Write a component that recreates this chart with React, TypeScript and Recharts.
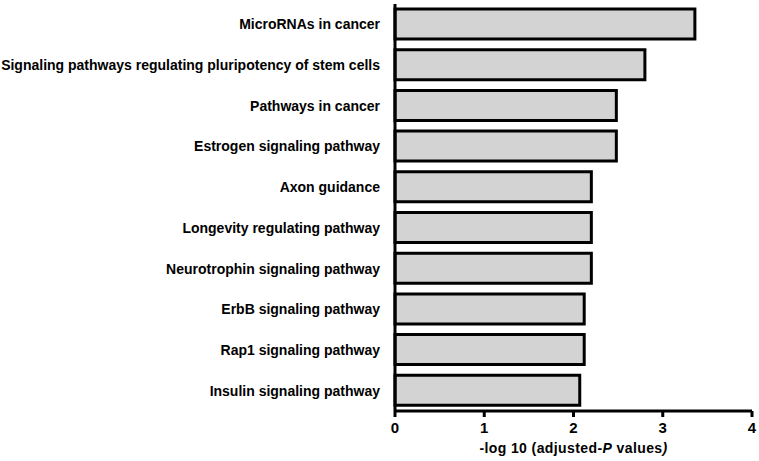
import React from "react";
import { BarChart, Bar, XAxis, YAxis } from "recharts";

const pathways = [
  "MicroRNAs in cancer",
  "Signaling pathways regulating pluripotency of stem cells",
  "Pathways in cancer",
  "Estrogen signaling pathway",
  "Axon guidance",
  "Longevity regulating pathway",
  "Neurotrophin signaling pathway",
  "ErbB signaling pathway",
  "Rap1 signaling pathway",
  "Insulin signaling pathway",
];
const logP = [3.36, 2.8, 2.48, 2.48, 2.2, 2.2, 2.2, 2.12, 2.12, 2.07];
const xTicks = [0, 1, 2, 3, 4];

const data = pathways.map((name, i) => ({ name, value: logP[i] }));

const FONT = "'Liberation Sans', Arial, sans-serif";

const YTick = (props: any) => {
  const { x, y, payload } = props;
  return (
    <text x={x - 7} y={y} dy={5} textAnchor="end" fontFamily={FONT} fontWeight="bold" fontSize={14} fill="#000">
      {payload.value}
    </text>
  );
};

const XTick = (props: any) => {
  const { x, y, payload } = props;
  return (
    <text x={x} y={y} dy={14} textAnchor="middle" fontFamily={FONT} fontWeight="bold" fontSize={15} fill="#000">
      {payload.value}
    </text>
  );
};

const XLabel = (props: any) => {
  const { viewBox } = props;
  const cx = viewBox.x + viewBox.width / 2;
  return (
    <text x={cx} y={viewBox.y + 42} textAnchor="middle" fontFamily={FONT} fontWeight="bold" fontSize={14} letterSpacing={0.4} fill="#000">
      -log 10 (adjusted-<tspan fontStyle="italic">P</tspan> values<tspan fontStyle="italic">)</tspan>
    </text>
  );
};

export default function App() {
  return (
    <div style={{ position: "absolute", left: 0, top: 0, width: 759, height: 461, background: "#fff" }}>
      <BarChart
        width={759}
        height={461}
        data={data}
        layout="vertical"
        margin={{ top: 4, right: 7, bottom: 0, left: 0 }}
        barSize={30}
      >
        <XAxis
          type="number"
          domain={[0, 4]}
          ticks={xTicks}
          height={50}
          axisLine={{ stroke: "#000", strokeWidth: 3 }}
          tickLine={{ stroke: "#000", strokeWidth: 3 }}
          tickSize={6}
          tick={<XTick />}
          label={<XLabel />}
        />
        <YAxis
          type="category"
          dataKey="name"
          width={395}
          axisLine={{ stroke: "#000", strokeWidth: 3 }}
          tickLine={false}
          tick={<YTick />}
          interval={0}
        />
        <Bar dataKey="value" fill="#d3d3d3" stroke="#000" strokeWidth={3} isAnimationActive={false} />
      </BarChart>
    </div>
  );
}
